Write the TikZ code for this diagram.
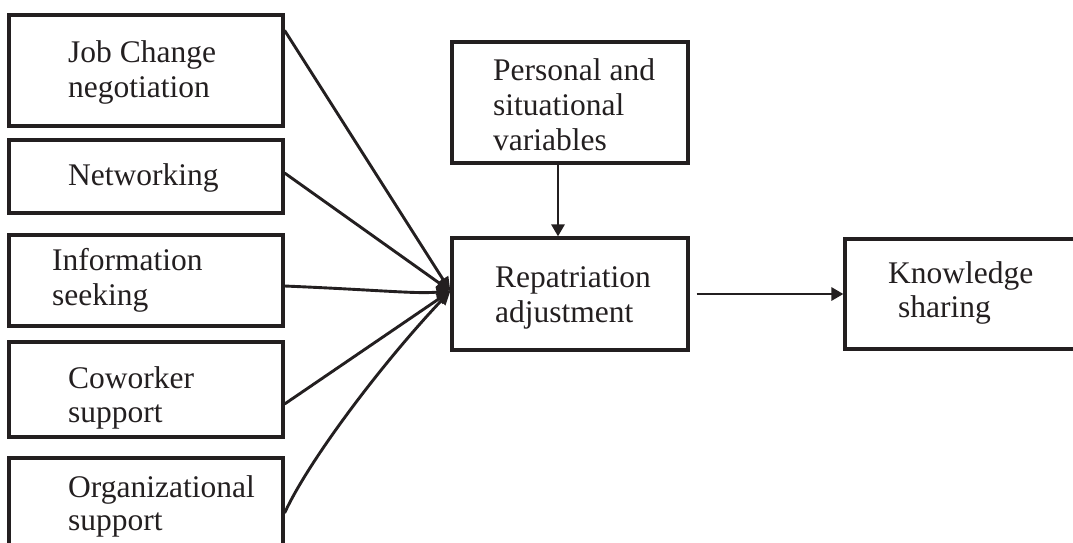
\documentclass[tikz,border=0pt]{standalone}
\usepackage{fontspec}
\setmainfont{Liberation Serif}
\usetikzlibrary{arrows.meta}
\definecolor{ink}{HTML}{231F20}
\begin{document}
\begin{tikzpicture}[x=1pt,y=-1pt,
  box/.style={draw=ink,line width=3.2pt,rectangle,inner sep=0pt},
  lbl/.style={inner sep=0pt,anchor=base west,text=ink,font=\fontsize{31.5}{35}\selectfont},
  conn/.style={draw=ink,line width=2.9pt,-{Triangle[length=14pt,width=12pt]}},
  straight/.style={draw=ink,line width=2.9pt,-{Triangle[length=12pt,width=13pt]}}]
\useasboundingbox (0,0) rectangle (1073,542);
\clip (0,0) rectangle (1073,542);
% boxes
\node[box,minimum width=274pt,minimum height=111pt] (b1) at (146,70.5) {};
\node[box,minimum width=274pt,minimum height=73pt] (b2) at (146,176.5) {};
\node[box,minimum width=274pt,minimum height=91pt] (b3) at (146,280.5) {};
\node[box,minimum width=274pt,minimum height=95pt] (b4) at (146,389.5) {};
\node[box,minimum width=274pt,minimum height=102pt] (b5) at (146,509) {};
\node[box,minimum width=236pt,minimum height=121pt] (P) at (570,102.5) {};
\node[box,minimum width=236pt,minimum height=112pt] (R) at (570,294) {};
\node[box,minimum width=245pt,minimum height=110pt] (K) at (967.5,294) {};
% texts
\node[lbl] (t1a) at (68,62) {Job Change};
\node[lbl] (t1b) at (68,97) {negotiation};
\node[lbl] (t2) at (68,185) {Networking};
\node[lbl] (t3a) at (52,270) {Information};
\node[lbl] (t3b) at (52,305) {seeking};
\node[lbl] (t4a) at (68,388) {Coworker};
\node[lbl] (t4b) at (68,422) {support};
\node[lbl] (t5a) at (68,497) {Organizational};
\node[lbl] (t5b) at (68,530) {support};
\node[lbl] (tPa) at (493,80) {Personal and};
\node[lbl] (tPb) at (493,115) {situational};
\node[lbl] (tPc) at (493,150) {variables};
\node[lbl] (tRa) at (495,287) {Repatriation};
\node[lbl] (tRb) at (495,322) {adjustment};
\node[lbl] (tKa) at (888,283) {Knowledge};
\node[lbl] (tKb) at (898,317) {sharing};
% connectors
\coordinate (m) at ([yshift=3pt]R.west);
\draw[conn] ([yshift=-17pt]b1.north east) -- (m);
\draw[conn] ([yshift=3.5pt]b2.east) -- (m);
\draw[conn] ([yshift=-5.5pt]b3.east) .. controls (380,290) and (415,294) .. (m);
\draw[conn] ([yshift=-14.5pt]b4.east) -- (m);
\draw[conn] ([yshift=-4pt]b5.east) .. controls (310,458) and (385,360) .. (m);
\draw[straight] ([xshift=-12pt]P.south) -- ([xshift=-12pt]R.north);
\draw[straight] ([xshift=7pt]R.east) -- (K.west);
\end{tikzpicture}
\end{document}
